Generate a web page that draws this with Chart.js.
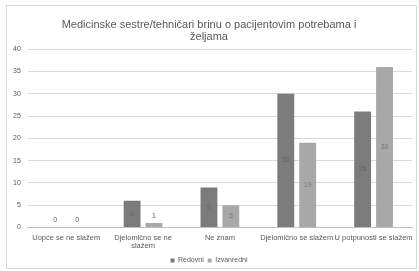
<!DOCTYPE html>
<html lang="hr">
<head>
    <meta charset="UTF-8">
    <title>Medicinske sestre/tehničari brinu o pacijentovim potrebama i željama</title>
    <style>
        html, body { margin: 0; padding: 0; background: #ffffff; overflow: hidden; }
        .frame {
            position: absolute;
            left: 6px;
            top: 5px;
            width: 409px;
            height: 262px;
            border: 1px solid #d9d9d9;
        }
        .chart-box {
            position: absolute;
            left: 7px;
            top: 6px;
            width: 409px;
            height: 268px;
        }
    </style>
</head>
<body>
    <div class="frame"></div>
    <div class="chart-box">
        <canvas id="chart"></canvas>
    </div>

    <script src="https://cdn.jsdelivr.net/npm/chart.js"></script>
    <script>
        // chart data
        const categories = [
            'Uopće se ne slažem',
            ['Djelomično se ne', 'slažem'],
            'Ne znam',
            'Djelomično se slažem',
            'U potpunosti se slažem'
        ];
        const redovni = [0, 6, 9, 30, 26];
        const izvanredni = [0, 1, 5, 19, 36];
        const yTicks = [0, 5, 10, 15, 20, 25, 30, 35, 40];

        const font = "'Liberation Sans', Arial, sans-serif";

        // value labels drawn in the middle of each bar (above it when the bar is too short)
        const barLabels = {
            id: 'barLabels',
            afterDatasetsDraw(chart) {
                const ctx = chart.ctx;
                ctx.save();
                ctx.font = '7px ' + font;
                ctx.textAlign = 'center';
                ctx.textBaseline = 'middle';
                chart.data.datasets.forEach((ds, i) => {
                    chart.getDatasetMeta(i).data.forEach((bar, j) => {
                        const h = bar.base - bar.y;
                        let y = (bar.y + bar.base) / 2;
                        if (h < 10) {
                            y = bar.y - 7;
                            ctx.fillStyle = '#595959';
                        } else {
                            ctx.fillStyle = ds.labelColor;
                        }
                        ctx.fillText(ds.data[j], bar.x, y);
                    });
                });
                ctx.restore();
            }
        };

        new Chart(document.getElementById('chart'), {
            type: 'bar',
            data: {
                labels: categories,
                datasets: [
                    {
                        label: 'Redovni',
                        data: redovni,
                        backgroundColor: '#7b7b7b',
                        labelColor: '#656565',
                        barPercentage: 0.77,
                        categoryPercentage: 0.57
                    },
                    {
                        label: 'Izvanredni',
                        data: izvanredni,
                        backgroundColor: '#a8a8a8',
                        labelColor: '#7a7a7a',
                        barPercentage: 0.77,
                        categoryPercentage: 0.57
                    }
                ]
            },
            options: {
                responsive: true,
                maintainAspectRatio: false,
                animation: false,
                layout: { padding: { left: -1, right: 4, top: -1, bottom: 0 } },
                plugins: {
                    title: {
                        display: true,
                        text: ['Medicinske sestre/tehničari brinu o pacijentovim potrebama i', 'željama'],
                        color: '#595959',
                        font: { family: font, size: 11, weight: 'normal', lineHeight: 1.1 },
                        padding: { top: 14, bottom: 6 }
                    },
                    legend: {
                        position: 'bottom',
                        // empty title only used as spacing above the legend items
                        title: {
                            display: true,
                            text: '',
                            font: { size: 1, lineHeight: 1 },
                            padding: { top: 4, bottom: 0 }
                        },
                        labels: {
                            color: '#595959',
                            font: { family: font, size: 7 },
                            boxWidth: 4,
                            boxHeight: 4,
                            padding: 4
                        }
                    },
                    tooltip: { enabled: false }
                },
                scales: {
                    x: {
                        grid: { display: false },
                        border: { color: '#bfbfbf' },
                        ticks: {
                            color: '#595959',
                            font: { family: font, size: 7.5, lineHeight: 1.1 },
                            maxRotation: 0,
                            autoSkip: false,
                            padding: -2
                        }
                    },
                    y: {
                        min: 0,
                        max: 40,
                        afterBuildTicks(axis) {
                            axis.ticks = yTicks.map(v => ({ value: v }));
                        },
                        grid: { color: '#d9d9d9', drawTicks: false },
                        border: { display: false },
                        ticks: {
                            color: '#595959',
                            font: { family: font, size: 7 },
                            padding: 7
                        }
                    }
                }
            },
            plugins: [barLabels]
        });
    </script>
</body>
</html>
